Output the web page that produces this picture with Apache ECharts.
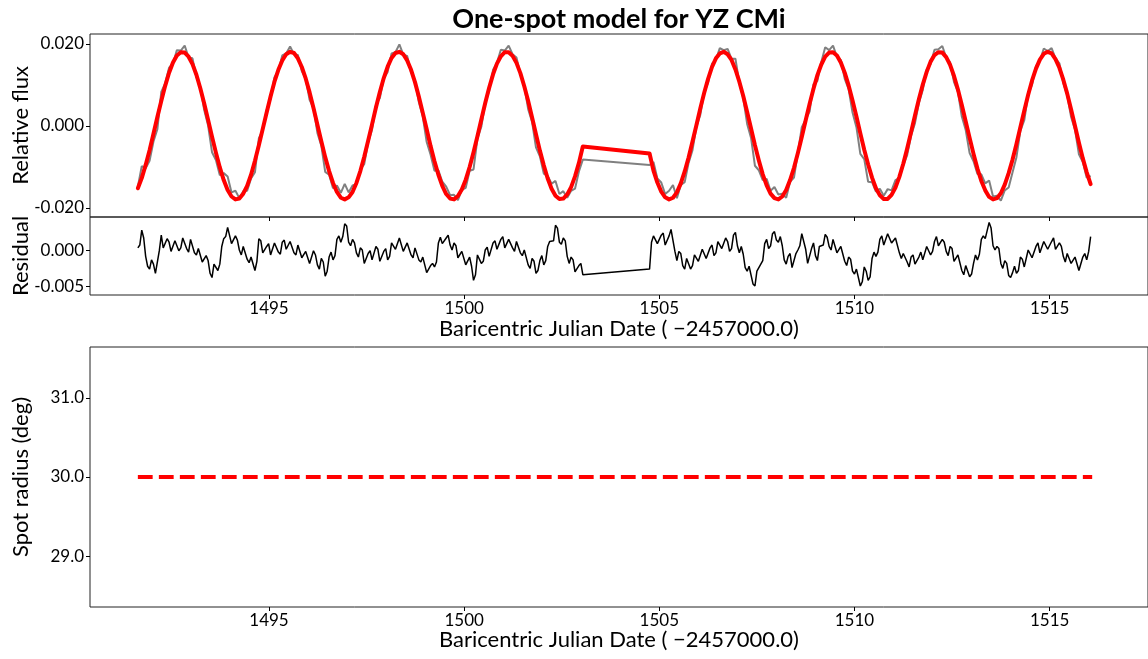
<!DOCTYPE html>
<html><head><meta charset="utf-8">
<script src="https://cdn.jsdelivr.net/npm/echarts@6/dist/echarts.min.js"></script>
<style>html,body{margin:0;padding:0;background:#fff}#c{width:1148px;height:659px}</style>
</head><body><div id="c"></div>
<script>
// ---- data ----
const cadence = 0.1;          // days between flux/model samples
const residCadence = 0.05;    // days between residual samples
const segAStart = 1491.64;    // first segment start (BJD - 2457000)
const segBStart = 1504.75;    // second segment start

const fluxA = [
-0.0148,-0.0098,-0.0103,-0.0085,-0.0038,-0.0008,0.0083,0.0104,0.0142,0.0152,
0.0185,0.0184,0.0196,0.0167,0.0165,0.0119,0.0096,0.0039,0.0001,-0.0064,
-0.0083,-0.0120,-0.0115,-0.0123,-0.0162,-0.0158,-0.0176,-0.0159,-0.0158,-0.0128,
-0.0113,-0.0030,-0.0010,0.0039,0.0066,0.0119,0.0135,0.0172,0.0177,0.0194,
0.0175,0.0173,0.0134,0.0115,0.0064,0.0044,-0.0017,-0.0048,-0.0112,-0.0119,
-0.0152,-0.0145,-0.0163,-0.0141,-0.0162,-0.0145,-0.0142,-0.0106,-0.0093,-0.0040,
-0.0009,0.0051,0.0068,0.0116,0.0132,0.0177,0.0180,0.0199,0.0174,0.0171,
0.0131,0.0111,0.0058,0.0023,-0.0039,-0.0070,-0.0109,-0.0108,-0.0136,-0.0148,
-0.0169,-0.0168,-0.0181,-0.0156,-0.0151,-0.0109,-0.0106,-0.0031,-0.0002,0.0057,
0.0085,0.0137,0.0154,0.0186,0.0184,0.0196,0.0175,0.0167,0.0126,0.0098,
0.0041,0.0010,-0.0052,-0.0074,-0.0116,-0.0122,-0.0141,-0.0134,-0.0166,-0.0159,
-0.0175,-0.0158,-0.0153,-0.0111,-0.0082];
const fluxB = [
-0.0095,-0.0088,-0.0128,-0.0138,-0.0166,-0.0158,-0.0144,-0.0176,-0.0144,-0.0137,
-0.0090,-0.0059,-0.0002,0.0027,0.0082,0.0106,0.0152,0.0162,0.0190,0.0185,
0.0188,0.0164,0.0164,0.0105,0.0068,0.0005,-0.0029,-0.0097,-0.0108,-0.0132,
-0.0129,-0.0158,-0.0149,-0.0167,-0.0165,-0.0175,-0.0136,-0.0126,-0.0065,-0.0003,
0.0016,0.0035,0.0102,0.0110,0.0156,0.0192,0.0185,0.0196,0.0169,0.0161,
0.0115,0.0090,0.0033,-0.0003,-0.0068,-0.0081,-0.0136,-0.0137,-0.0160,-0.0153,
-0.0170,-0.0154,-0.0157,-0.0132,-0.0127,-0.0096,-0.0071,-0.0024,0.0007,0.0056,
0.0088,0.0138,0.0151,0.0186,0.0187,0.0195,0.0167,0.0155,0.0107,0.0083,
0.0023,-0.0010,-0.0066,-0.0086,-0.0117,-0.0118,-0.0140,-0.0133,-0.0172,-0.0170,
-0.0182,-0.0157,-0.0150,-0.0113,-0.0076,-0.0012,0.0014,0.0077,0.0101,0.0146,
0.0159,0.0189,0.0183,0.0190,0.0165,0.0153,0.0105,0.0075,0.0022,-0.0009,
-0.0069,-0.0088,-0.0126,-0.0122];

const modelA = [
-0.0152,-0.0127,-0.0095,-0.0059,-0.0019,0.0022,0.0061,0.0098,0.0130,0.0155,
0.0172,0.0180,0.0179,0.0169,0.0151,0.0125,0.0092,0.0055,0.0015,-0.0026,
-0.0065,-0.0101,-0.0132,-0.0156,-0.0172,-0.0179,-0.0177,-0.0165,-0.0146,-0.0119,
-0.0085,-0.0047,-0.0007,0.0033,0.0072,0.0108,0.0137,0.0160,0.0175,0.0181,
0.0178,0.0165,0.0144,0.0116,0.0082,0.0044,0.0003,-0.0037,-0.0076,-0.0110,
-0.0139,-0.0161,-0.0175,-0.0179,-0.0174,-0.0161,-0.0139,-0.0110,-0.0075,-0.0036,
0.0004,0.0045,0.0083,0.0117,0.0145,0.0166,0.0178,0.0181,0.0175,0.0160,
0.0137,0.0107,0.0071,0.0032,-0.0008,-0.0049,-0.0086,-0.0119,-0.0146,-0.0166,
-0.0177,-0.0179,-0.0171,-0.0155,-0.0131,-0.0100,-0.0064,-0.0025,0.0016,0.0056,
0.0093,0.0126,0.0152,0.0170,0.0180,0.0180,0.0171,0.0154,0.0129,0.0097,
0.0061,0.0021,-0.0020,-0.0060,-0.0096,-0.0128,-0.0153,-0.0170,-0.0178,-0.0177,
-0.0167,-0.0149,-0.0123,-0.0090,-0.0050];
const modelB = [
-0.0067,-0.0109,-0.0138,-0.0160,-0.0174,-0.0179,-0.0175,-0.0162,-0.0140,-0.0111,
-0.0077,-0.0038,0.0002,0.0043,0.0081,0.0115,0.0144,0.0165,0.0177,0.0181,
0.0175,0.0161,0.0138,0.0108,0.0073,0.0034,-0.0006,-0.0047,-0.0084,-0.0118,
-0.0145,-0.0165,-0.0176,-0.0179,-0.0172,-0.0156,-0.0132,-0.0102,-0.0066,-0.0027,
0.0014,0.0054,0.0091,0.0124,0.0150,0.0169,0.0179,0.0180,0.0172,0.0155,
0.0130,0.0099,0.0062,0.0023,-0.0018,-0.0058,-0.0094,-0.0126,-0.0152,-0.0169,
-0.0178,-0.0178,-0.0168,-0.0150,-0.0124,-0.0092,-0.0055,-0.0015,0.0026,0.0065,
0.0101,0.0132,0.0157,0.0173,0.0180,0.0179,0.0168,0.0149,0.0122,0.0089,
0.0051,0.0011,-0.0029,-0.0068,-0.0104,-0.0134,-0.0157,-0.0173,-0.0179,-0.0176,
-0.0164,-0.0143,-0.0115,-0.0082,-0.0044,-0.0003,0.0037,0.0076,0.0111,0.0140,
0.0162,0.0176,0.0181,0.0177,0.0163,0.0142,0.0113,0.0079,0.0040,0.0000,
-0.0041,-0.0079,-0.0113,-0.0142];

const residA = [
0.0004,0.0008,0.0029,0.0018,-0.0008,-0.0022,-0.0026,-0.0013,-0.0019,-0.0032,
-0.0030,0.0000,0.0022,0.0004,0.0006,0.0017,0.0012,-0.0001,-0.0003,0.0014,
0.0013,0.0000,0.0004,0.0018,0.0017,0.0003,-0.0002,0.0016,0.0014,-0.0003,
-0.0006,0.0003,0.0004,-0.0016,-0.0016,-0.0007,-0.0014,-0.0032,-0.0038,-0.0019,
-0.0018,-0.0028,-0.0019,0.0006,0.0017,0.0020,0.0033,0.0032,0.0010,0.0009,
0.0021,0.0015,0.0001,-0.0006,0.0006,0.0005,-0.0012,-0.0017,-0.0009,-0.0010,
-0.0028,-0.0015,0.0017,0.0014,-0.0003,-0.0003,0.0006,0.0010,-0.0006,-0.0004,
0.0011,0.0009,-0.0002,-0.0005,0.0012,0.0015,0.0002,0.0002,0.0013,0.0014,
-0.0003,-0.0006,0.0008,0.0006,-0.0010,-0.0011,-0.0001,0.0000,-0.0018,-0.0016,
0.0000,-0.0006,-0.0020,-0.0026,-0.0011,-0.0016,-0.0036,-0.0029,-0.0009,-0.0002,
-0.0013,-0.0007,0.0016,0.0021,0.0012,0.0020,0.0038,0.0035,0.0012,0.0007,
0.0016,0.0011,-0.0003,-0.0009,0.0004,0.0001,-0.0018,-0.0017,-0.0004,0.0000,
-0.0013,-0.0013,0.0006,0.0002,-0.0015,-0.0013,-0.0001,0.0003,-0.0013,-0.0008,
0.0011,0.0011,0.0002,0.0000,0.0018,0.0017,-0.0001,-0.0001,0.0011,0.0012,
-0.0006,-0.0010,0.0004,0.0002,-0.0013,-0.0016,-0.0009,-0.0010,-0.0031,-0.0033,
-0.0021,-0.0018,-0.0023,-0.0016,0.0011,0.0019,0.0010,0.0008,0.0018,0.0022,
0.0008,0.0001,0.0011,0.0007,-0.0010,-0.0011,-0.0001,-0.0001,-0.0020,-0.0022,
-0.0009,-0.0022,-0.0042,-0.0034,-0.0006,-0.0004,-0.0018,-0.0015,0.0001,0.0005,
-0.0008,-0.0007,0.0011,0.0014,0.0002,0.0004,0.0016,0.0020,0.0004,0.0003,
0.0016,0.0014,0.0004,-0.0001,0.0013,0.0013,-0.0003,-0.0007,0.0001,-0.0001,
-0.0020,-0.0025,-0.0011,-0.0015,-0.0032,-0.0028,-0.0014,-0.0007,-0.0020,-0.0014,
0.0006,0.0013,0.0012,0.0014,0.0036,0.0032,0.0012,0.0009,0.0018,0.0014,
-0.0008,-0.0018,-0.0009,-0.0013,-0.0030,-0.0031,-0.0021,-0.0018,-0.0034];
const residB = [
-0.0026,0.0012,0.0021,0.0023,0.0010,0.0011,0.0022,0.0025,0.0008,0.0008,
0.0021,0.0030,0.0031,-0.0001,-0.0014,-0.0001,-0.0004,-0.0021,-0.0026,-0.0011,
-0.0013,-0.0026,-0.0021,-0.0006,-0.0004,-0.0015,-0.0016,0.0002,0.0001,-0.0011,
-0.0009,0.0004,0.0008,-0.0007,-0.0003,0.0013,0.0013,0.0003,0.0004,0.0018,
0.0013,-0.0001,0.0003,0.0022,0.0026,0.0007,-0.0003,0.0006,-0.0005,-0.0024,
-0.0029,-0.0022,-0.0023,-0.0047,-0.0050,-0.0029,-0.0024,-0.0025,-0.0014,0.0010,
0.0016,0.0003,0.0007,0.0024,0.0027,0.0015,0.0012,0.0020,0.0007,-0.0013,
-0.0019,-0.0008,-0.0004,-0.0024,-0.0024,-0.0004,0.0001,0.0007,0.0024,0.0022,
0.0002,-0.0018,-0.0019,0.0003,0.0011,-0.0007,-0.0014,0.0006,0.0006,0.0008,
0.0023,0.0019,0.0006,0.0001,0.0016,0.0015,-0.0003,-0.0004,0.0006,0.0004,
-0.0015,-0.0021,-0.0009,-0.0012,-0.0029,-0.0033,-0.0026,-0.0028,-0.0050,-0.0044,
-0.0023,-0.0029,-0.0042,-0.0037,-0.0011,-0.0002,-0.0008,-0.0002,0.0016,0.0021,
0.0008,0.0007,0.0024,0.0025,0.0011,0.0010,0.0018,0.0018,-0.0003,-0.0011,
-0.0004,-0.0006,-0.0016,-0.0023,-0.0009,-0.0006,-0.0019,-0.0020,-0.0009,-0.0002,
-0.0013,-0.0013,0.0006,0.0007,-0.0006,-0.0001,0.0013,0.0020,0.0007,0.0005,
0.0016,0.0012,-0.0001,-0.0007,0.0006,0.0003,-0.0015,-0.0017,-0.0006,-0.0008,
-0.0028,-0.0034,-0.0021,-0.0022,-0.0037,-0.0033,-0.0018,-0.0006,-0.0013,-0.0005,
0.0016,0.0021,0.0017,0.0019,0.0040,0.0032,0.0007,0.0001,0.0006,0.0003,
-0.0018,-0.0025,-0.0014,-0.0018,-0.0035,-0.0038,-0.0031,-0.0022,-0.0032,-0.0028,
-0.0009,-0.0012,-0.0023,-0.0021,0.0001,0.0003,-0.0010,-0.0008,0.0006,0.0011,
-0.0003,-0.0004,0.0013,0.0015,0.0002,0.0003,0.0013,0.0018,0.0002,0.0000,
0.0011,0.0006,-0.0008,-0.0016,-0.0004,-0.0003,-0.0018,-0.0020,-0.0009,-0.0010,
-0.0028,-0.0028,-0.0009,-0.0004,-0.0013,-0.0001,0.0020];

const radiusTimes = [1491.64, 1516.09];
const radiusValues = [30.0, 30.0];

const xTicks = [1495, 1500, 1505, 1510, 1515];
const fluxTicks = [-0.02, 0, 0.02];
const residTicks = [-0.005, 0];
const radiusTicks = [29, 30, 31];

const titleText = 'One-spot model for YZ CMi';
const xName = 'Baricentric Julian Date ( \u22122457000.0)';

// ---- build ----
function pairs(start, step, arr) {
  return arr.map((v, i) => [Math.round((start + i * step) * 1000) / 1000, v]);
}
const fluxData = pairs(segAStart, cadence, fluxA).concat(pairs(segBStart, cadence, fluxB));
const modelData = pairs(segAStart, cadence, modelA).concat(pairs(segBStart, cadence, modelB));
const residData = pairs(segAStart, residCadence, residA).concat(pairs(segBStart, residCadence, residB));
const radiusData = radiusTimes.map((t, i) => [t, radiusValues[i]]);

const FONT = 'Lato, "DejaVu Sans", sans-serif';
const xMin = 1490.414, xMax = 1517.52;

function xAxisCfg(gi, showLabels) {
  return {
    type: 'value', gridIndex: gi, min: xMin, max: xMax,
    axisLine: { show: false, onZero: false },
    splitLine: { show: false },
    axisTick: { show: true, inside: false, length: 4, customValues: xTicks,
                lineStyle: { color: '#000', width: 1 } },
    axisLabel: { show: showLabels, customValues: xTicks, margin: 5,
                 color: '#000', fontSize: 17, fontFamily: FONT,
                 formatter: v => String(Math.round(v)) }
  };
}
function yAxisCfg(gi, min, max, ticks, dec) {
  return {
    type: 'value', gridIndex: gi, min: min, max: max,
    axisLine: { show: false, onZero: false },
    splitLine: { show: false },
    axisTick: { show: true, inside: false, length: 4, customValues: ticks,
                lineStyle: { color: '#000', width: 1 } },
    axisLabel: { show: true, customValues: ticks, margin: 6,
                 color: '#000', fontSize: 17, fontFamily: FONT,
                 formatter: v => v.toFixed(dec) }
  };
}
const gridBase = { left: 90, right: -10, show: true, borderColor: '#222', borderWidth: 1,
                   backgroundColor: 'transparent', containLabel: false };

const option = {
  animation: false,
  backgroundColor: '#fff',
  grid: [
    Object.assign({ top: 34, height: 183 }, gridBase),
    Object.assign({ top: 217, height: 78 }, gridBase),
    Object.assign({ top: 347, height: 260 }, gridBase)
  ],
  xAxis: [xAxisCfg(0, false), xAxisCfg(1, true), xAxisCfg(2, true)],
  yAxis: [
    yAxisCfg(0, -0.0222, 0.02244, fluxTicks, 3),
    yAxisCfg(1, -0.00627, 0.00477, residTicks, 3),
    yAxisCfg(2, 28.358, 31.642, radiusTicks, 1)
  ],
  series: [
    { type: 'line', xAxisIndex: 0, yAxisIndex: 0, data: fluxData, showSymbol: false,
      lineStyle: { color: '#808080', width: 2 }, z: 2 },
    { type: 'line', xAxisIndex: 0, yAxisIndex: 0, data: modelData, showSymbol: false,
      lineStyle: { color: '#ff0000', width: 4, cap: 'round', join: 'round' }, z: 3 },
    { type: 'line', xAxisIndex: 1, yAxisIndex: 1, data: residData, showSymbol: false,
      lineStyle: { color: '#000', width: 1.5 }, z: 3 },
    { type: 'line', xAxisIndex: 2, yAxisIndex: 2, data: radiusData, showSymbol: false,
      lineStyle: { color: '#ff0000', width: 4, type: [14.8, 6.2], cap: 'butt' }, z: 3 }
  ],
  graphic: [
    { type: 'text', x: 619, y: 19, style: { text: titleText, fill: '#000',
      font: 'bold 27px ' + FONT, align: 'center', verticalAlign: 'middle' } },
    { type: 'text', x: 21, y: 125.5, rotation: Math.PI / 2, style: { text: 'Relative flux',
      fill: '#000', font: '22px ' + FONT, align: 'center', verticalAlign: 'middle' } },
    { type: 'text', x: 21, y: 256, rotation: Math.PI / 2, style: { text: 'Residual',
      fill: '#000', font: '22px ' + FONT, align: 'center', verticalAlign: 'middle' } },
    { type: 'text', x: 21, y: 477, rotation: Math.PI / 2, style: { text: 'Spot radius (deg)',
      fill: '#000', font: '22px ' + FONT, align: 'center', verticalAlign: 'middle' } },
    { type: 'text', x: 619, y: 329, style: { text: xName, fill: '#000',
      font: '22px ' + FONT, align: 'center', verticalAlign: 'middle' } },
    { type: 'text', x: 619, y: 640, style: { text: xName, fill: '#000',
      font: '22px ' + FONT, align: 'center', verticalAlign: 'middle' } }
  ]
};
const chart = echarts.init(document.getElementById('c'), null, { renderer: 'canvas' });
chart.setOption(option);
</script>
</body></html>
